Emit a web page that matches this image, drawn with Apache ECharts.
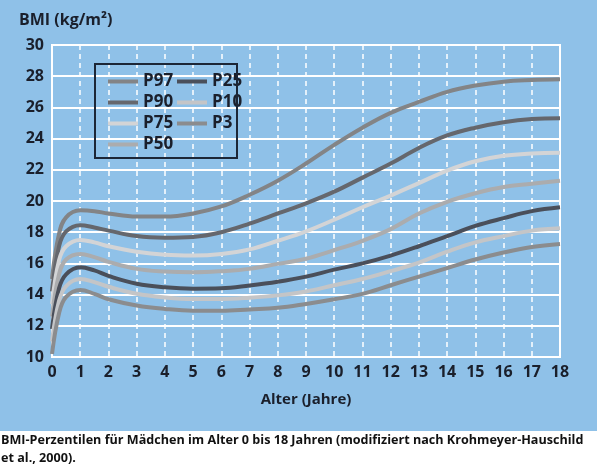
<!DOCTYPE html>
<html>
<head>
<meta charset="utf-8">
<script src="https://cdn.jsdelivr.net/npm/echarts@6/dist/echarts.min.js"></script>
<style>
html,body{margin:0;padding:0;background:#fff;}
#c{width:600px;height:467px;}
</style>
</head>
<body>
<div id="c"></div>
<script>
// Ages (years)
const ages = [0, 0.25, 0.5, 1, 1.5, 2, 3, 4, 5, 6, 7, 8, 9, 10, 11, 12, 13, 14, 15, 16, 17, 18];
// BMI percentile values (kg/m²)
const p97 = [15.0, 17.9, 18.95, 19.4, 19.35, 19.2, 19.0, 19.0, 19.2, 19.65, 20.4, 21.3, 22.4, 23.6, 24.7, 25.65, 26.35, 27.0, 27.4, 27.65, 27.75, 27.8];
const p90 = [14.2, 17.1, 18.05, 18.45, 18.3, 18.1, 17.75, 17.65, 17.7, 18.0, 18.55, 19.2, 19.85, 20.6, 21.5, 22.4, 23.4, 24.2, 24.7, 25.05, 25.25, 25.3];
const p75 = [13.4, 16.2, 17.1, 17.5, 17.35, 17.1, 16.75, 16.55, 16.5, 16.6, 16.9, 17.45, 18.05, 18.8, 19.6, 20.35, 21.15, 21.95, 22.55, 22.9, 23.05, 23.1];
const p50 = [12.6, 15.3, 16.25, 16.6, 16.4, 16.1, 15.65, 15.48, 15.43, 15.5, 15.65, 15.97, 16.3, 16.85, 17.45, 18.2, 19.2, 19.95, 20.5, 20.9, 21.1, 21.3];
const p25 = [11.8, 14.4, 15.3, 15.75, 15.55, 15.2, 14.7, 14.47, 14.38, 14.4, 14.58, 14.82, 15.15, 15.6, 16.0, 16.5, 17.1, 17.75, 18.4, 18.9, 19.35, 19.6];
const p10 = [11.0, 13.6, 14.55, 15.0, 14.8, 14.5, 14.05, 13.82, 13.72, 13.72, 13.8, 13.95, 14.2, 14.6, 15.0, 15.5, 16.05, 16.75, 17.35, 17.75, 18.1, 18.25];
const p3  = [10.2, 12.8, 13.85, 14.3, 14.05, 13.7, 13.3, 13.08, 12.97, 12.97, 13.05, 13.15, 13.4, 13.7, 14.05, 14.6, 15.15, 15.7, 16.25, 16.7, 17.05, 17.25];
const seriesNames = ['P97', 'P90', 'P75', 'P50', 'P25', 'P10', 'P3'];
const seriesValues = [p97, p90, p75, p50, p25, p10, p3];
const seriesColors = ['#838486', '#65676d', '#d3d4d6', '#abacae', '#4a4f5a', '#c4c5c7', '#8b8c8e'];
const yTitle = 'BMI (kg/m²)';
const xTitle = 'Alter (Jahre)';
const caption1 = 'BMI-Perzentilen für Mädchen im Alter 0 bis 18 Jahren (modifiziert nach Krohmeyer-Hauschild';
const caption2 = 'et al., 2000).';

const FONT = '"Open Sans", "Noto Sans", sans-serif';
const chart = echarts.init(document.getElementById('c'), null, {renderer: 'canvas'});

const series = seriesNames.map((n, i) => ({
  name: n,
  type: 'line',
  smooth: 0.4,
  showSymbol: false,
  symbol: 'none',
  data: ages.map((a, j) => [a, seriesValues[i][j]]),
  lineStyle: {color: seriesColors[i], width: 4},
  itemStyle: {color: seriesColors[i]},
  z: 5
}));

const legendText = {fontFamily: FONT, fontWeight: 'bold', fontSize: 17, color: '#1a1f2b'};

chart.setOption({
  animation: false,
  backgroundColor: '#ffffff',
  graphic: [
    {type: 'rect', shape: {x: 0, y: 0, width: 597, height: 431}, style: {fill: '#8fc1e8'}, z: -10, silent: true},
    {type: 'rect', shape: {x: 95, y: 64, width: 142, height: 94}, style: {fill: 'none', stroke: '#1c2636', lineWidth: 2}, z: 20, silent: true},
    {type: 'text', left: 19, top: 12, style: {text: yTitle, font: 'bold 16px ' + FONT, fill: '#1a1f2b'}},
    {type: 'text', left: 1, top: 434, style: {text: caption1, font: 'bold 12.6px ' + FONT, fill: '#111'}},
    {type: 'text', left: 1, top: 452, style: {text: caption2, font: 'bold 12.6px ' + FONT, fill: '#111'}}
  ],
  grid: {left: 52, right: 40, top: 45, bottom: 110, show: true, borderColor: '#ffffff', borderWidth: 2},
  legend: [
    {data: seriesNames.slice(0, 4), orient: 'vertical', left: 103, top: 68, itemWidth: 30, itemHeight: 4, itemGap: 4,
     textStyle: legendText, icon: 'rect', inactiveColor: '#ccc'},
    {data: seriesNames.slice(4), orient: 'vertical', left: 172, top: 68, itemWidth: 30, itemHeight: 4, itemGap: 4,
     textStyle: legendText, icon: 'rect', inactiveColor: '#ccc'}
  ],
  xAxis: {
    type: 'value', min: 0, max: 18, interval: 1,
    name: xTitle, nameLocation: 'middle', nameGap: 35,
    nameTextStyle: {fontFamily: FONT, fontWeight: 'bold', fontSize: 15, color: '#1a1f2b'},
    axisLine: {show: true, lineStyle: {color: '#ffffff', width: 2}},
    axisTick: {show: false},
    axisLabel: {fontFamily: FONT, fontWeight: 'bold', fontSize: 16, color: '#1a1f2b', margin: 7},
    splitLine: {show: true, lineStyle: {color: '#ffffff', width: 1.5, type: [5, 4]}}
  },
  yAxis: {
    type: 'value', min: 10, max: 30, interval: 2,
    axisLine: {show: true, lineStyle: {color: '#ffffff', width: 2}},
    axisTick: {show: false},
    axisLabel: {fontFamily: FONT, fontWeight: 'bold', fontSize: 16, color: '#1a1f2b', margin: 8},
    splitLine: {show: true, lineStyle: {color: '#ffffff', width: 2}}
  },
  series: series
});
</script>
</body>
</html>
